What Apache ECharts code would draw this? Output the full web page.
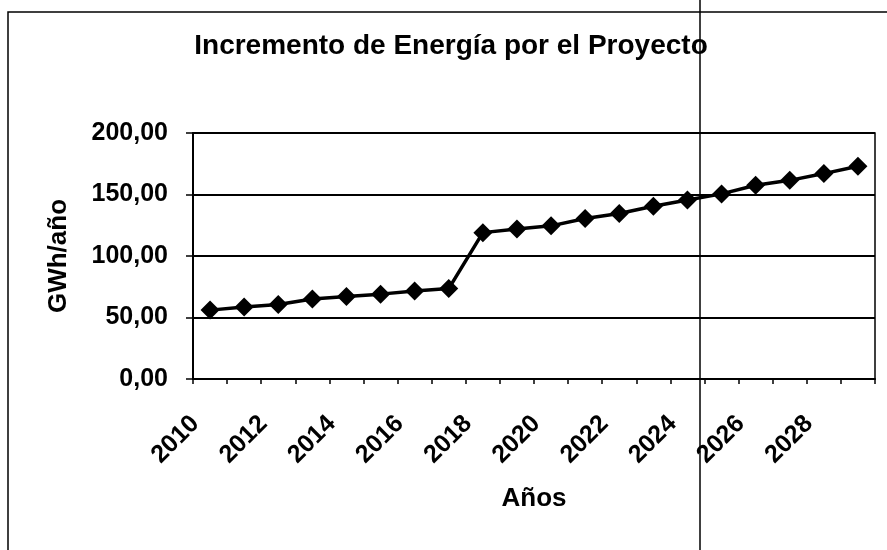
<!DOCTYPE html>
<html>
<head>
<meta charset="utf-8">
<script src="https://cdn.jsdelivr.net/npm/echarts@6/dist/echarts.min.js"></script>
<style>
html,body{margin:0;padding:0;background:#fff;}
#c{width:887px;height:550px;}
</style>
</head>
<body>
<div id="c"></div>
<script>
const categories = ['2010','2011','2012','2013','2014','2015','2016','2017','2018','2019','2020','2021','2022','2023','2024','2025','2026','2027','2028','2029'];
const energia = [56, 58.5, 60.5, 65, 67, 69, 71.5, 73.5, 119, 122, 124.5, 130.5, 134.5, 140.5, 145.5, 150.5, 157.5, 161.5, 167, 173];
const yTicks = [0, 50, 100, 150, 200];

const FONT = '"Liberation Sans", Arial, sans-serif';
const chart = echarts.init(document.getElementById('c'), null, {renderer:'canvas'});
chart.setOption({
  backgroundColor: '#fff',
  animation: false,
  title: {
    text: 'Incremento de Energía por el Proyecto',
    left: 451, textAlign: 'center',
    top: 32,
    padding: 0,
    textStyle: {fontFamily: FONT, fontWeight: 'bold', fontSize: 28, color: '#000'}
  },
  grid: {left: 193, right: 12, top: 133, bottom: 171, show: true, borderColor: '#000', borderWidth: 1.5, backgroundColor: 'transparent'},
  xAxis: {
    type: 'category',
    data: categories,
    boundaryGap: true,
    name: 'Años',
    nameLocation: 'middle',
    nameGap: 107,
    nameTextStyle: {fontFamily: FONT, fontWeight: 'bold', fontSize: 26, color: '#000'},
    axisLine: {lineStyle: {color: '#000', width: 2}},
    axisTick: {show: true, interval: 0, length: 5, lineStyle: {color: '#000', width: 1.5}},
    axisLabel: {interval: 1, rotate: 45, margin: 26, padding: [0, 21, 0, 0], fontFamily: FONT, fontWeight: 'bold', fontSize: 25, color: '#000'},
    splitLine: {show: false}
  },
  yAxis: {
    type: 'value',
    min: 0, max: 200, interval: 50,
    name: 'GWh/año',
    nameLocation: 'middle',
    nameGap: 121,
    nameTextStyle: {fontFamily: FONT, fontWeight: 'bold', fontSize: 26, color: '#000'},
    axisLine: {show: true, lineStyle: {color: '#000', width: 2}},
    axisTick: {show: true, length: 7, lineStyle: {color: '#000', width: 1.5}},
    axisLabel: {
      margin: 25, fontFamily: FONT, fontWeight: 'bold', fontSize: 25, color: '#000',
      formatter: v => yTicks.includes(v) ? v.toFixed(2).replace('.', ',') : ''
    },
    splitLine: {show: true, lineStyle: {color: '#000', width: 2}}
  },
  series: [{
    type: 'line',
    data: energia,
    symbol: 'diamond',
    symbolSize: 19,
    lineStyle: {color: '#000', width: 3.5},
    itemStyle: {color: '#000'}
  }],
  graphic: [
    {type: 'rect', shape: {x: 8, y: 12, width: 900, height: 600}, style: {fill: 'none', stroke: '#000', lineWidth: 1.5}, silent: true},
    {type: 'line', shape: {x1: 700, y1: 0, x2: 700, y2: 550}, style: {stroke: '#000', lineWidth: 1.5}, silent: true}
  ]
});
</script>
</body>
</html>
